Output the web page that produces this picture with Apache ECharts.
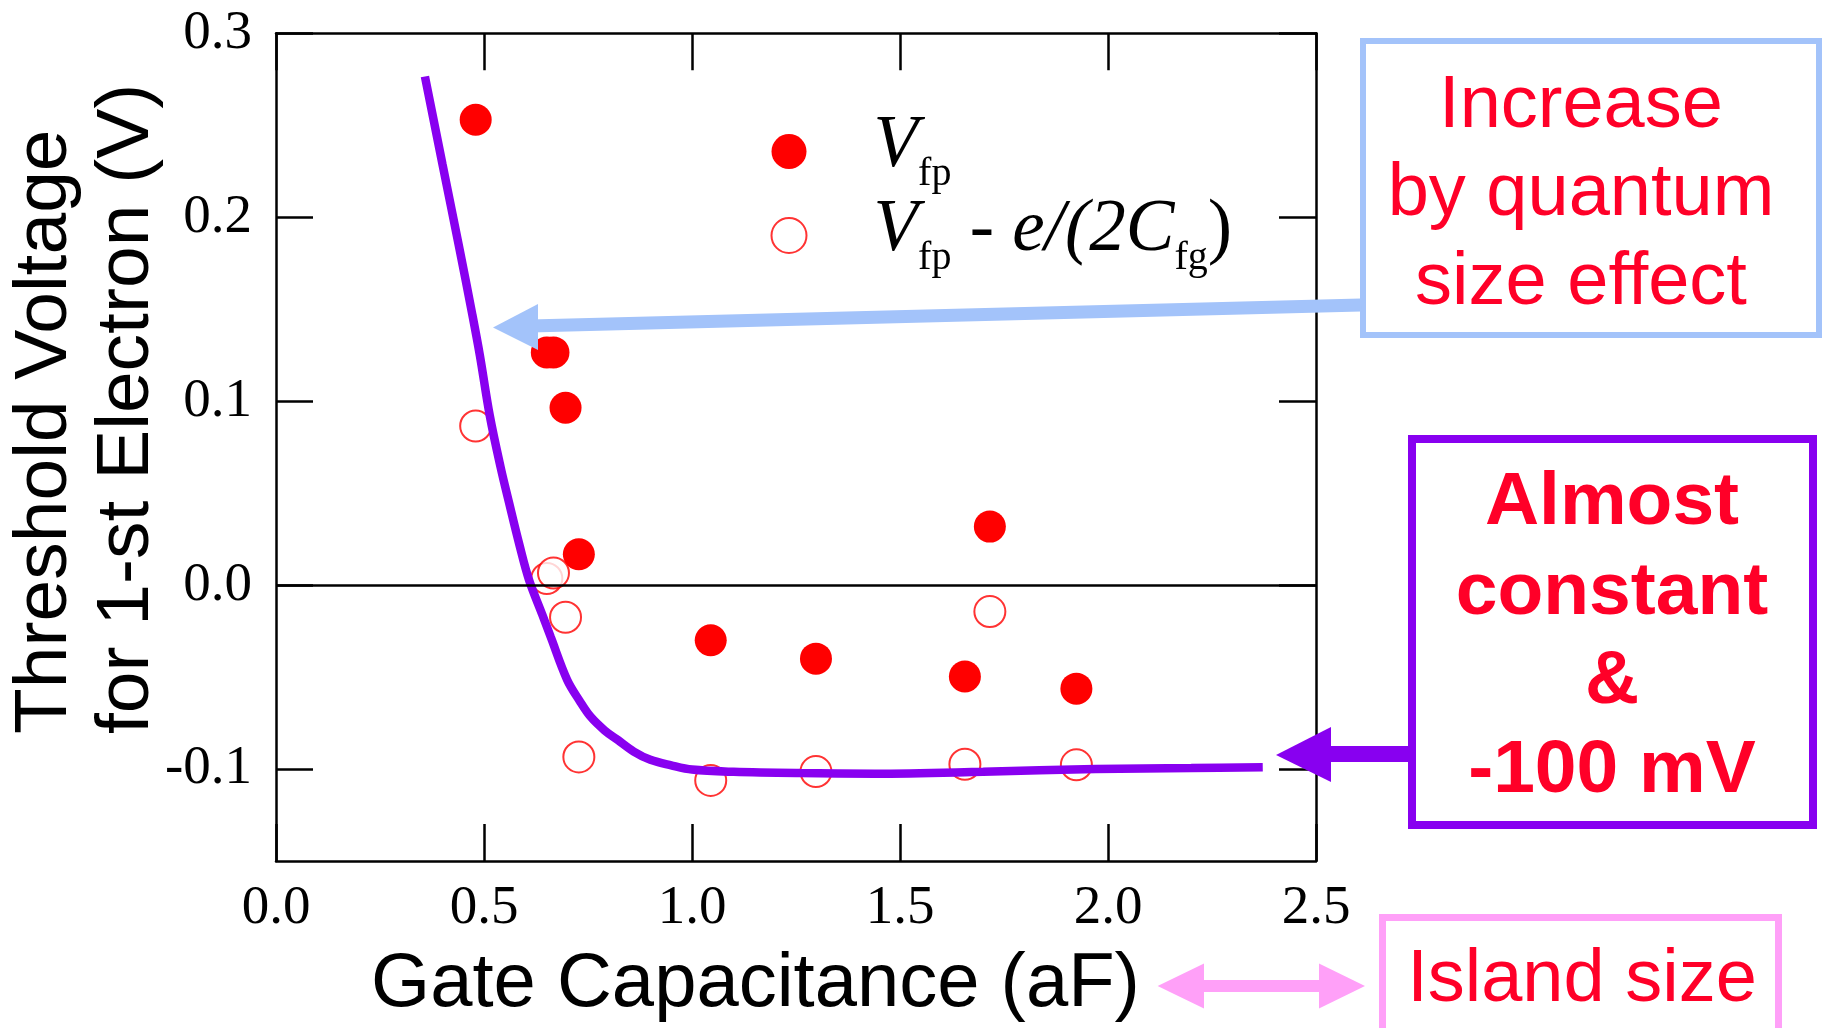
<!DOCTYPE html>
<html><head><meta charset="utf-8">
<script src="https://cdn.jsdelivr.net/npm/echarts@6/dist/echarts.min.js"></script>
<style>html,body{margin:0;padding:0;background:#fff}#c{width:1823px;height:1028px}</style>
</head><body><div id="c"></div>
<script>
// ---- data ----
const xTickValues = [0.0, 0.5, 1.0, 1.5, 2.0, 2.5];
const yTickValues = [-0.1, 0.0, 0.1, 0.2, 0.3];
const seriesNames = ['Vfp', 'Vfp - e/(2Cfg)'];
// gate capacitance (aF)
const gateCap = [0.480, 0.651, 0.667, 0.696, 0.728, 1.045, 1.298, 1.656, 1.716, 1.924];
// V_fp (V) : filled circles
const vfp = [0.253, 0.1265, 0.1265, 0.0964, 0.0168, -0.030, -0.040, -0.0497, 0.0318, -0.0563];
// V_fp - e/(2C_fg) (V) : open circles
const vfpCorr = [0.0865, 0.0036, 0.0066, -0.0175, -0.0934, -0.1062, -0.1014, -0.0974, -0.0144, -0.0977];
// guide curve (purple)
const fitCap = [0.358, 0.40, 0.44, 0.472, 0.49, 0.514, 0.54, 0.56, 0.585, 0.608, 0.64, 0.66, 0.70, 0.73, 0.756, 0.79, 0.821, 0.86, 0.90, 0.95, 1.00, 1.10, 1.26, 1.44, 1.70, 1.97, 2.20, 2.372];
const fitV   = [0.2765, 0.229, 0.184, 0.147, 0.125, 0.092, 0.064, 0.045, 0.022, 0.003, -0.016, -0.028, -0.0516, -0.063, -0.0715, -0.079, -0.0841, -0.0905, -0.095, -0.098, -0.1003, -0.1015, -0.1022, -0.1025, -0.1015, -0.1000, -0.0995, -0.0990];

// ---- chart ----
const chart = echarts.init(document.getElementById('c'), null, {renderer: 'canvas'});
const BLACK = '#000';
const RED = '#ff0000';
const TXT_RED = '#ff0028';
const PURPLE = '#8800f0';
const BLUE = '#a3c3fa';
const PINK = '#ffa0f8';
const axisLine = {show: true, onZero: false, lineStyle: {color: BLACK, width: 2.5}};
const tickStyle = {color: BLACK, width: 2.5};
const serif = 'Liberation Serif';
const sans = 'Liberation Sans';

const rich = {
  v: {fontFamily: serif, fontStyle: 'italic', fontSize: 73, lineHeight: 80, padding: [0, 0, 10, 62], color: BLACK},
  s: {fontFamily: serif, fontSize: 40, lineHeight: 80, padding: [46, 0, 0, 0], color: BLACK},
  n: {fontFamily: serif, fontSize: 73, lineHeight: 80, padding: [0, 0, 10, 0], color: BLACK},
  i: {fontFamily: serif, fontStyle: 'italic', fontSize: 73, lineHeight: 80, padding: [0, 0, 10, 0], color: BLACK}
};

const option = {
  animation: false,
  backgroundColor: '#fff',
  grid: {left: 276, right: 507, top: 33.3, bottom: 158, containLabel: false},
  legend: {
    data: [{name: seriesNames[0], icon: 'circle'}, {name: seriesNames[1], icon: 'emptyCircle'}],
    orient: 'vertical', left: 770.5, top: 108.5, padding: 0,
    itemWidth: 35, itemHeight: 35, itemGap: -2, selectedMode: false,
    formatter: function (name) {
      return name === seriesNames[0] ? '{v|V}{s|fp}' : '{v|V}{s|fp}{n| - }{i|e/(2C}{s|fg}{n|)}';
    },
    textStyle: {color: BLACK, rich: rich}
  },
  xAxis: [{
    type: 'value', min: 0, max: 2.5, interval: 0.5, position: 'bottom',
    axisLine: axisLine,
    axisTick: {show: true, inside: true, length: 37, lineStyle: tickStyle, customValues: xTickValues},
    axisLabel: {customValues: xTickValues, formatter: v => v.toFixed(1), fontFamily: serif, fontSize: 55, lineHeight: 56, color: BLACK, margin: 20},
    splitLine: {show: false},
    name: 'Gate Capacitance (aF)', nameLocation: 'middle', nameGap: 86,
    nameTextStyle: {fontFamily: sans, fontSize: 76, lineHeight: 76, color: BLACK, padding: [0, 81, 0, 0]}
  }, {
    type: 'value', min: 0, max: 2.5, interval: 0.5, position: 'top',
    axisLine: axisLine,
    axisTick: {show: true, inside: true, length: 37, lineStyle: tickStyle, customValues: xTickValues},
    axisLabel: {show: false}, splitLine: {show: false}
  }],
  yAxis: [{
    type: 'value', min: -0.15, max: 0.3, position: 'left',
    axisLine: axisLine,
    axisTick: {show: true, inside: true, length: 37, lineStyle: tickStyle, customValues: yTickValues},
    axisLabel: {customValues: yTickValues, formatter: v => v.toFixed(1), fontFamily: serif, fontSize: 55, color: BLACK, margin: 24},
    splitLine: {show: false}
  }, {
    type: 'value', min: -0.15, max: 0.3, position: 'right',
    axisLine: axisLine,
    axisTick: {show: true, inside: true, length: 37, lineStyle: tickStyle, customValues: yTickValues},
    axisLabel: {show: false}, splitLine: {show: false}
  }],
  series: [{
    name: seriesNames[0], type: 'scatter', xAxisIndex: 0, yAxisIndex: 0,
    data: gateCap.map((c, i) => [c, vfp[i]]),
    symbol: 'circle', symbolSize: 32, itemStyle: {color: RED, opacity: 1}, z: 3,
    markLine: {
      silent: true, symbol: ['none', 'none'], label: {show: false},
      lineStyle: {color: BLACK, width: 2.5, type: 'solid'},
      emphasis: {disabled: true},
      data: [{yAxis: 0}]
    }
  }, {
    name: seriesNames[1], type: 'scatter', xAxisIndex: 0, yAxisIndex: 0,
    data: gateCap.map((c, i) => [c, vfpCorr[i]]),
    symbol: 'emptyCircle', symbolSize: 31, itemStyle: {color: RED, borderColor: RED, borderWidth: 2}, z: 3
  }, {
    name: 'guide', type: 'line', xAxisIndex: 0, yAxisIndex: 0,
    data: fitCap.map((c, i) => [c, fitV[i]]),
    showSymbol: false, smooth: 0.35, lineStyle: {color: PURPLE, width: 8.5, cap: 'butt'}, z: 4, silent: true
  }],
  graphic: [
    // y axis title
    {type: 'text', x: 5, y: 734, rotation: Math.PI / 2, z: 100,
     style: {text: 'Threshold Voltage\nfor 1-st Electron (V)', fontFamily: sans, fontSize: 75, lineHeight: 81.5,
             align: 'left', verticalAlign: 'top', fill: BLACK}},
    // blue annotation
    {type: 'rect', z: 100, shape: {x: 1363, y: 41, width: 456, height: 294}, style: {fill: 'none', stroke: BLUE, lineWidth: 6}},
    {type: 'line', z: 100, shape: {x1: 530, y1: 326, x2: 1361, y2: 305}, style: {stroke: BLUE, lineWidth: 13}},
    {type: 'polygon', z: 101, shape: {points: [[493, 327.5], [538, 304], [538, 350]]}, style: {fill: BLUE}},
    {type: 'text', x: 1581, y: 62, z: 100,
     style: {text: 'Increase\nby quantum\nsize effect', fontFamily: sans, fontSize: 74, lineHeight: 88.5,
             align: 'center', verticalAlign: 'top', fill: TXT_RED}},
    // purple annotation
    {type: 'rect', z: 100, shape: {x: 1412, y: 439, width: 401, height: 386}, style: {fill: 'none', stroke: PURPLE, lineWidth: 8}},
    {type: 'line', z: 100, shape: {x1: 1325, y1: 754, x2: 1410, y2: 754}, style: {stroke: PURPLE, lineWidth: 16}},
    {type: 'polygon', z: 101, shape: {points: [[1276, 755], [1331, 727], [1331, 782]]}, style: {fill: PURPLE}},
    {type: 'text', x: 1612, y: 459, z: 100,
     style: {text: 'Almost\nconstant\n&\n-100 mV', fontFamily: sans, fontWeight: 'bold', fontSize: 75, lineHeight: 89.3,
             align: 'center', verticalAlign: 'top', fill: TXT_RED}},
    // pink annotation
    {type: 'rect', z: 100, shape: {x: 1382.5, y: 917.5, width: 396, height: 200}, style: {fill: 'none', stroke: PINK, lineWidth: 7}},
    {type: 'line', z: 100, shape: {x1: 1200, y1: 986, x2: 1322, y2: 986}, style: {stroke: PINK, lineWidth: 12}},
    {type: 'polygon', z: 101, shape: {points: [[1157.6, 986], [1204, 963.5], [1204, 1008.5]]}, style: {fill: PINK}},
    {type: 'polygon', z: 101, shape: {points: [[1365, 986], [1319, 963.5], [1319, 1008.5]]}, style: {fill: PINK}},
    {type: 'text', x: 1582, y: 981, z: 100,
     style: {text: 'Island size', fontFamily: sans, fontSize: 74, align: 'center', verticalAlign: 'middle', fill: TXT_RED}}
  ]
};
chart.setOption(option);
</script>
</body></html>
